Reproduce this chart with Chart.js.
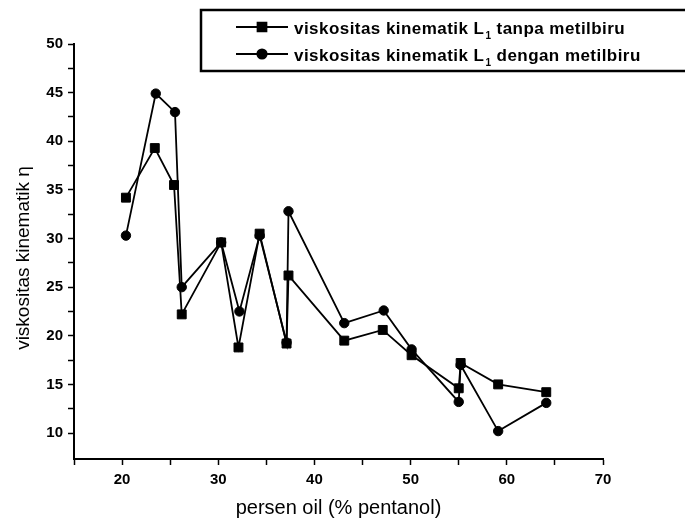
<!DOCTYPE html>
<html>
<head>
<meta charset="utf-8">
<script src="https://cdn.jsdelivr.net/npm/chart.js@4.4.0/dist/chart.umd.min.js"></script>
<style>
  body { margin: 0; background: #fff; }
  canvas { display: block; }
</style>
</head>
<body>
<canvas id="chart" width="685" height="524"></canvas>
<script>
// nilai
const seriesLabels = [
  "viskositas kinematik L₁ tanpa metilbiru",
  "viskositas kinematik L₁ dengan metilbiru"
];
const xTanpa = [20.4, 23.4, 25.4, 26.2, 30.3, 32.1, 34.3, 37.1, 37.3, 43.1, 47.1, 50.1, 55.0, 55.2, 59.1, 64.1];
const yTanpa = [34.2, 39.3, 35.5, 22.2, 29.6, 18.8, 30.5, 19.2, 26.2, 19.5, 20.6, 18.0, 14.6, 17.2, 15.0, 14.2];
const xDengan = [20.4, 23.5, 25.5, 26.2, 30.3, 32.2, 34.3, 37.1, 37.3, 43.1, 47.2, 50.1, 55.0, 55.2, 59.1, 64.1];
const yDengan = [30.3, 44.9, 43.0, 25.0, 29.6, 22.5, 30.3, 19.3, 32.8, 21.3, 22.6, 18.6, 13.2, 17.0, 10.2, 13.1];
const xTickLabels = [20, 30, 40, 50, 60, 70];
const yTickLabels = [10, 15, 20, 25, 30, 35, 40, 45, 50];
const xTitle = "persen oil (% pentanol)";
const yTitle = "viskositas kinematik η";

const fontFamily = '"Liberation Sans", Arial, sans-serif';

// gabungkan x dan y jadi titik
function toPoints(xs, ys) {
  return xs.map((x, i) => ({ x: x, y: ys[i] }));
}

// tick kecil tiap 5 (x) dan 2.5 (y)
function stepTicks(from, to, step) {
  const out = [];
  for (let v = from; v <= to + 1e-9; v += step) out.push({ value: Math.round(v * 100) / 100 });
  return out;
}

// judul sumbu y digambar sendiri supaya posisinya pas
const yTitlePlugin = {
  id: "yTitlePlugin",
  afterDraw(chart) {
    const ctx = chart.ctx;
    ctx.save();
    ctx.translate(24, 258);
    ctx.rotate(-Math.PI / 2);
    ctx.textAlign = "center";
    ctx.textBaseline = "middle";
    ctx.fillStyle = "#000";
    ctx.font = "19px " + fontFamily;
    ctx.fillText(yTitle, 0, 0);
    ctx.restore();
  }
};

// legenda dalam kotak, L dengan subskrip 1
const legendBox = {
  id: "legendBox",
  afterDraw(chart) {
    const ctx = chart.ctx;
    ctx.save();
    ctx.strokeStyle = "#000";
    ctx.fillStyle = "#000";
    ctx.lineWidth = 2.5;
    ctx.strokeRect(201, 10, 520, 61);

    chart.data.datasets.forEach((ds, i) => {
      const rowY = 27 + i * 27;
      ctx.lineWidth = 1.8;
      ctx.beginPath();
      ctx.moveTo(236, rowY);
      ctx.lineTo(288, rowY);
      ctx.stroke();
      Chart.helpers.drawPoint(ctx, {
        pointStyle: ds.pointStyle,
        radius: ds.pointRadius,
        borderWidth: 1,
        rotation: 0
      }, 262, rowY);

      const parts = ds.label.split("₁");
      const baseY = rowY + 6.5;
      let x = 294;
      ctx.textBaseline = "alphabetic";
      ctx.textAlign = "left";
      ctx.letterSpacing = "0.45px";
      ctx.font = "bold 17px " + fontFamily;
      ctx.fillText(parts[0], x, baseY);
      x += ctx.measureText(parts[0]).width;
      ctx.font = "bold 10px " + fontFamily;
      ctx.fillText("1", x + 1, baseY + 5);
      x += ctx.measureText("1").width + 1;
      ctx.font = "bold 17px " + fontFamily;
      ctx.fillText(parts[1], x, baseY);
    });
    ctx.restore();
  }
};

new Chart(document.getElementById("chart"), {
  type: "line",
  data: {
    datasets: [
      {
        label: seriesLabels[0],
        data: toPoints(xTanpa, yTanpa),
        borderColor: "#000",
        backgroundColor: "#000",
        borderWidth: 1.8,
        pointStyle: "rect",
        pointRadius: 6.3,
        pointBorderWidth: 1,
        tension: 0
      },
      {
        label: seriesLabels[1],
        data: toPoints(xDengan, yDengan),
        borderColor: "#000",
        backgroundColor: "#000",
        borderWidth: 1.8,
        pointStyle: "circle",
        pointRadius: 4.7,
        pointBorderWidth: 1,
        tension: 0
      }
    ]
  },
  options: {
    responsive: false,
    animation: false,
    events: [],
    layout: { padding: { top: 44, right: 82, left: 0, bottom: 0 } },
    plugins: {
      legend: { display: false },
      tooltip: { enabled: false }
    },
    scales: {
      x: {
        type: "linear",
        min: 15,
        max: 70,
        afterBuildTicks: (scale) => { scale.ticks = stepTicks(15, 70, 5); },
        afterFit: (scale) => { scale.height = 65; },
        grid: { drawOnChartArea: false, drawTicks: true, tickLength: 6, tickColor: "#000", tickWidth: 1.5 },
        border: { display: true, color: "#000", width: 2 },
        ticks: {
          autoSkip: false,
          maxRotation: 0,
          padding: 6,
          color: "#000",
          font: { family: fontFamily, size: 15, weight: "bold" },
          callback: (v) => (xTickLabels.includes(v) ? v : "")
        },
        title: {
          display: true,
          text: xTitle,
          color: "#000",
          font: { family: fontFamily, size: 20 },
          padding: { top: 0, bottom: 4 }
        }
      },
      y: {
        min: 7.33,
        max: 50,
        afterBuildTicks: (scale) => { scale.ticks = stepTicks(10, 50, 2.5); },
        afterFit: (scale) => { scale.width = 74; },
        grid: { drawOnChartArea: false, drawTicks: true, tickLength: 6, tickColor: "#000", tickWidth: 1.5 },
        border: { display: true, color: "#000", width: 2 },
        ticks: {
          autoSkip: false,
          padding: 5,
          color: "#000",
          font: { family: fontFamily, size: 15, weight: "bold" },
          callback: (v) => (yTickLabels.includes(v) ? v : "")
        }
      }
    }
  },
  plugins: [legendBox, yTitlePlugin]
});
</script>
</body>
</html>
